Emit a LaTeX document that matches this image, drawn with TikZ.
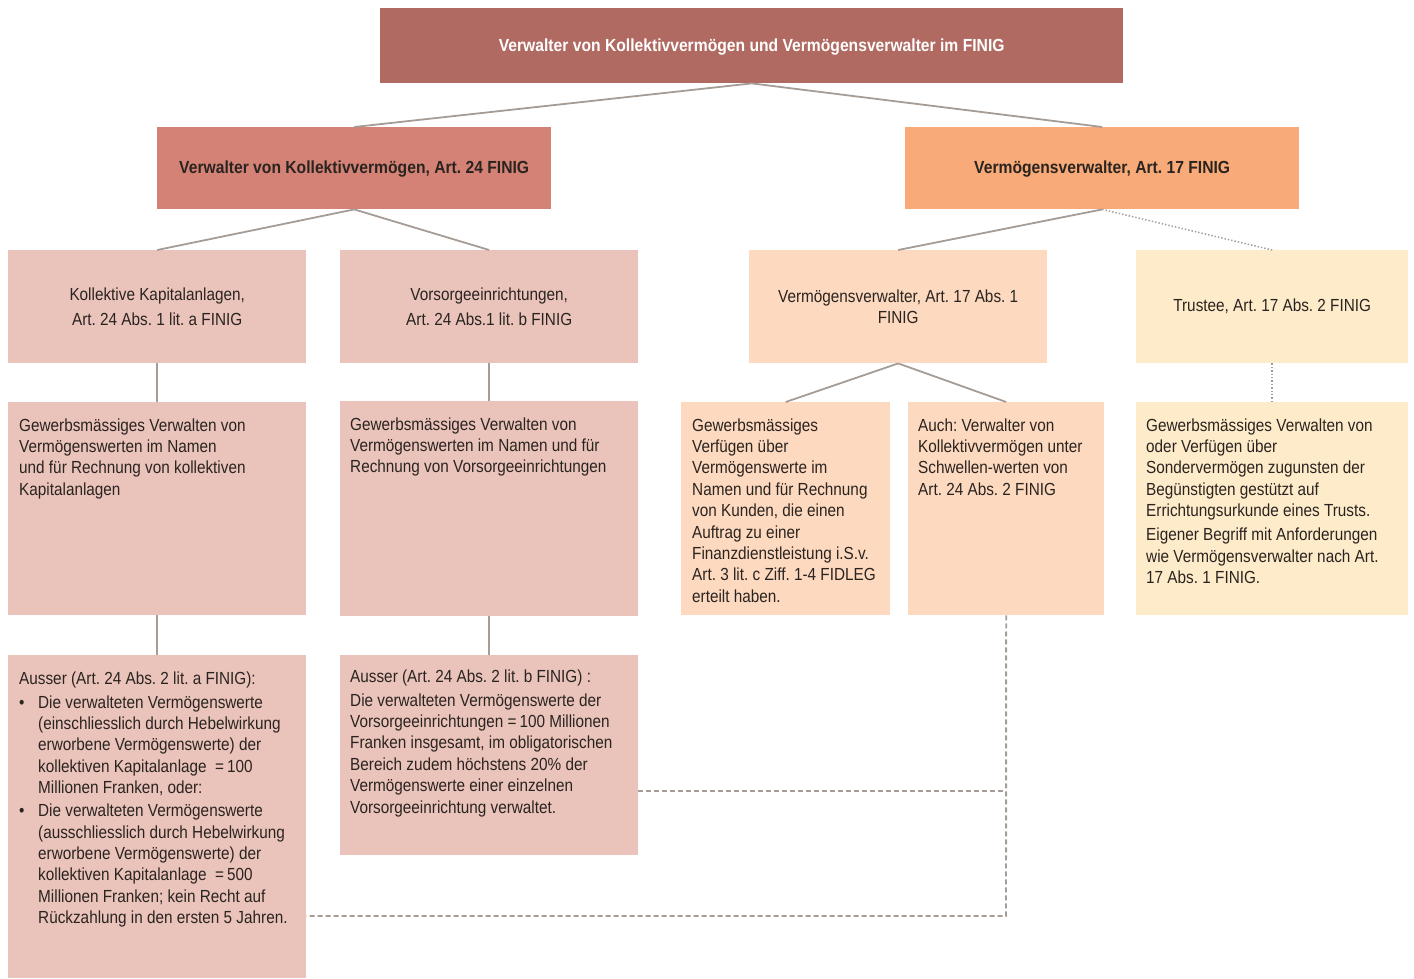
\documentclass[tikz,border=0pt]{standalone}
\usepackage{fontspec}
\setmainfont{Liberation Sans}[FakeStretch=0.875,BoldFeatures={FakeStretch=0.895}]
\frenchspacing
\definecolor{topc}{HTML}{B06A62}
\definecolor{lkc}{HTML}{D48276}
\definecolor{rkc}{HTML}{F8AA78}
\definecolor{pinkc}{HTML}{EAC3BB}
\definecolor{peachc}{HTML}{FDD9BF}
\definecolor{creamc}{HTML}{FEEBCA}
\definecolor{linec}{HTML}{A59C96}
\definecolor{txtc}{HTML}{2A2420}
\tikzset{
  boxbase/.style={rectangle, inner sep=0pt, anchor=north west, draw=none},
  pinkbox/.style={boxbase, fill=pinkc},
  peachbox/.style={boxbase, fill=peachc},
  creambox/.style={boxbase, fill=creamc},
  bodytxt/.style={anchor=north west, inner sep=0pt, align=left, text=txtc,
    font=\fontsize{17.5}{21.4}\selectfont},
  ctrtxt/.style={align=center, text=txtc, font=\fontsize{17.5}{21.4}\selectfont},
  conn/.style={draw=linec, line width=1.8pt},
  dashconn/.style={draw=linec, line width=1.9pt, dash pattern=on 5pt off 3pt},
  dotconn/.style={draw=linec, line width=1.5pt, dash pattern=on 1.4pt off 2pt},
}
\newcommand{\bul}{\makebox[19pt][l]{\textbullet}}
\newcommand{\ind}{\hspace*{19pt}}
\begin{document}
\begin{tikzpicture}[x=1pt,y=-1pt]
\useasboundingbox (0,0) rectangle (1414,978);
% level 1
\node[boxbase, fill=topc, minimum width=743pt, minimum height=75pt] (top) at (380,8) {};
\node[text=white, font=\bfseries\fontsize{17.5}{21.4}\selectfont] (toptxt) at ([yshift=-1pt]top.center) {Verwalter von Kollektivvermögen und Vermögensverwalter im FINIG};
% level 2
\node[boxbase, fill=lkc, minimum width=394pt, minimum height=82pt] (kv) at (157,127) {};
\node[text=txtc, font=\bfseries\fontsize{17.5}{21.4}\selectfont] (kvtxt) at ([yshift=-1pt]kv.center) {Verwalter von Kollektivvermögen, Art. 24 FINIG};
\node[boxbase, fill=rkc, minimum width=394pt, minimum height=82pt] (vv) at (905,127) {};
\node[text=txtc, font=\bfseries\fontsize{17.5}{21.4}\selectfont] (vvtxt) at ([yshift=-1pt]vv.center) {Vermögensverwalter, Art. 17 FINIG};
% level 3
\node[pinkbox, minimum width=298pt, minimum height=113pt] (kk) at (8,250) {};
\node[ctrtxt] (kktxt) at (kk.center) {Kollektive Kapitalanlagen,\\[3.6pt]Art. 24 Abs. 1 lit. a FINIG};
\node[pinkbox, minimum width=298pt, minimum height=113pt] (vo) at (340,250) {};
\node[ctrtxt] (votxt) at (vo.center) {Vorsorgeeinrichtungen,\\[3.6pt]Art. 24 Abs.1 lit. b FINIG};
\node[peachbox, minimum width=298pt, minimum height=113pt] (va) at (749,250) {};
\node[ctrtxt] (vatxt) at (va.center) {Vermögensverwalter, Art. 17 Abs. 1\\FINIG};
\node[creambox, minimum width=272pt, minimum height=113pt] (tr) at (1136,250) {};
\node[ctrtxt] (trtxt) at (tr.center) {Trustee, Art. 17 Abs. 2 FINIG};
% level 4
\node[pinkbox, minimum width=298pt, minimum height=213pt] (gl) at (8,402) {};
\node[bodytxt] (gltxt) at (19,416) {\strut Gewerbsmässiges Verwalten von\\Vermögenswerten im Namen\\und für Rechnung von kollektiven\\Kapitalanlagen};
\node[pinkbox, minimum width=298pt, minimum height=215pt] (gv) at (340,401) {};
\node[bodytxt] (gvtxt) at (350,415) {\strut Gewerbsmässiges Verwalten von\\Vermögenswerten im Namen und für\\Rechnung von Vorsorgeeinrichtungen};
\node[peachbox, minimum width=209pt, minimum height=213pt] (gf) at (681,402) {};
\node[bodytxt] (gftxt) at (692,416) {\strut Gewerbsmässiges\\Verfügen über\\Vermögenswerte im\\Namen und für Rechnung\\von Kunden, die einen\\Auftrag zu einer\\Finanzdienstleistung i.S.v.\\Art. 3 lit. c Ziff. 1-4 FIDLEG\\erteilt haben.};
\node[peachbox, minimum width=196pt, minimum height=213pt] (au) at (908,402) {};
\node[bodytxt] (autxt) at (918,416) {\strut Auch: Verwalter von\\Kollektivvermögen unter\\Schwellen-werten von\\Art. 24 Abs. 2 FINIG};
\node[creambox, minimum width=272pt, minimum height=213pt] (td) at (1136,402) {};
\node[bodytxt] (tdtxt) at (1146,416) {\strut Gewerbsmässiges Verwalten von\\oder Verfügen über\\Sondervermögen zugunsten der\\Begünstigten gestützt auf\\Errichtungsurkunde eines Trusts.\\[2.6pt]Eigener Begriff mit Anforderungen\\wie Vermögensverwalter nach Art.\\17 Abs. 1 FINIG.};
% level 5
\node[pinkbox, minimum width=298pt, minimum height=323pt] (aa) at (8,655) {};
\node[bodytxt] (aatxt) at (19,669) {\strut Ausser (Art. 24 Abs. 2 lit. a FINIG):\\[2.6pt]
\bul Die verwalteten Vermögenswerte\\
\ind(einschliesslich durch Hebelwirkung\\
\ind erworbene Vermögenswerte) der\\
\ind kollektiven Kapitalanlage \ =\,100\\
\ind Millionen Franken, oder:\\[1.6pt]
\bul Die verwalteten Vermögenswerte\\
\ind(ausschliesslich durch Hebelwirkung\\
\ind erworbene Vermögenswerte) der\\
\ind kollektiven Kapitalanlage \ =\,500\\
\ind Millionen Franken; kein Recht auf\\
\ind Rückzahlung in den ersten 5 Jahren.};
\node[pinkbox, minimum width=298pt, minimum height=200pt] (ab) at (340,655) {};
\node[bodytxt] (abtxt) at (350,667) {\strut Ausser (Art. 24 Abs. 2 lit. b FINIG) :\\[2.6pt]Die verwalteten Vermögenswerte der\\Vorsorgeeinrichtungen =\,100 Millionen\\Franken insgesamt, im obligatorischen\\Bereich zudem höchstens 20\% der\\Vermögenswerte einer einzelnen\\Vorsorgeeinrichtung verwaltet.};
% connectors
\draw[conn] (top.south) -- (kv.north);
\draw[conn] (top.south) -- (vv.north);
\draw[conn] (kv.south) -- (kk.north);
\draw[conn] (kv.south) -- (vo.north);
\draw[conn] (vv.south) -- (va.north);
\draw[dotconn] (vv.south) -- (tr.north);
\draw[conn] (kk.south) -- (gl.north);
\draw[conn] (vo.south) -- (gv.north);
\draw[conn] (va.south) -- (gf.north);
\draw[conn] (va.south) -- (au.north);
\draw[dotconn] (tr.south) -- (td.north);
\draw[conn] (gl.south) -- (aa.north);
\draw[conn] (gv.south) -- (ab.north);
\coordinate (j1) at (1006,916);
\coordinate (j2) at (1006,791);
\draw[dashconn] (au.south) -- (j1) -- (aa.east |- j1);
\draw[dashconn] (ab.east |- j2) -- (j2);
\end{tikzpicture}
\end{document}
